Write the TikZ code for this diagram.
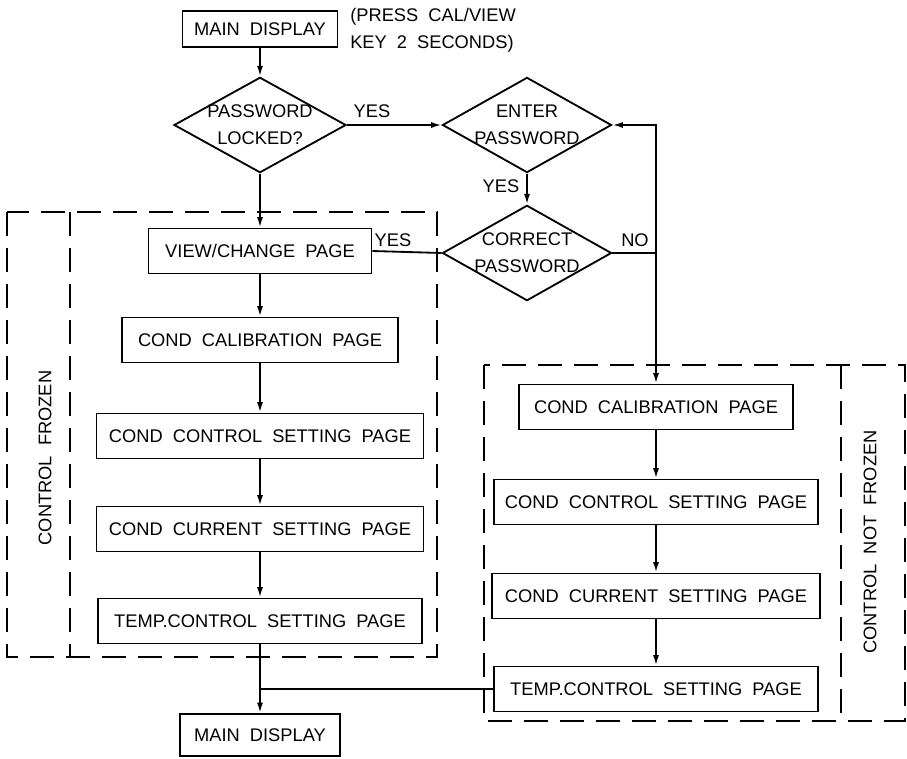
\documentclass[tikz,border=0pt]{standalone}
\usepackage{fontspec}
\usepackage{tikz}
\usetikzlibrary{arrows.meta}
\usetikzlibrary{shapes.geometric, calc}
\setmainfont{Liberation Sans}
\newcommand{\cadfont}{\fontsize{13}{19}\selectfont\spaceskip=0.55em\relax}

\tikzset{
    pagebox/.style={draw, line width=1.3pt, minimum height=1.125cm, inner sep=2pt},
    query/.style={diamond, draw, line width=1.3pt, aspect=1.75, inner sep=-1pt, align=center},
    arr/.style={-{Latex[length=2.6mm, width=1.5mm]}, line width=1.3pt},
    link/.style={line width=1.3pt},
    zone/.style={line width=1.3pt, dash pattern=on 0.6cm off 0.3cm},
    tag/.style={inner sep=1pt}
}

\begin{document}
\begin{tikzpicture}[x=0.025cm, y=-0.025cm, font=\cadfont]
    \useasboundingbox (0,0) rectangle (907,758);

    % Zones
    \draw[zone] (7,212) rectangle (437,657);
    \draw[zone] (70,212) -- (70,657);
    \draw[zone] (484,365) rectangle (905,721);
    \draw[zone] (841,365) -- (841,721);
    \node[rotate=90] (frozen) at (45,458) {CONTROL FROZEN};
    \node[rotate=90] (notfrozen) at (870,542) {CONTROL NOT FROZEN};

    % Entree
    \node[pagebox, minimum width=3.875cm, minimum height=0.9cm] (md1) at (260,29) {MAIN DISPLAY};
    \node[anchor=west, align=left, inner sep=0pt] (hint) at (350,30) {(PRESS CAL/VIEW\\KEY 2 SECONDS)};
    \node[query, minimum width=4.3cm] (locked) at (260,125) {PASSWORD\\LOCKED?};
    \node[query, minimum width=4.225cm] (enter) at (527,125) {ENTER\\PASSWORD};
    \node[query, minimum width=4.225cm] (correct) at (527,253) {CORRECT\\PASSWORD};

    % Colonne gauche
    \node[pagebox, minimum width=5.575cm] (view) at (260,251) {VIEW/CHANGE PAGE};
    \node[pagebox, minimum width=6.9cm] (lcal) at (260,340) {COND CALIBRATION PAGE};
    \node[pagebox, minimum width=8.175cm] (lctrl) at (260,436) {COND CONTROL SETTING PAGE};
    \node[pagebox, minimum width=8.175cm] (lcur) at (260,529) {COND CURRENT SETTING PAGE};
    \node[pagebox, minimum width=8.1cm] (ltemp) at (260,621) {TEMP.CONTROL SETTING PAGE};
    \node[pagebox, minimum width=4cm, minimum height=1.05cm] (md2) at (260,735) {MAIN DISPLAY};

    % Colonne droite
    \node[pagebox, minimum width=6.85cm] (rcal) at (656,407) {COND CALIBRATION PAGE};
    \node[pagebox, minimum width=8.1cm] (rctrl) at (656,502) {COND CONTROL SETTING PAGE};
    \node[pagebox, minimum width=8.2cm] (rcur) at (656,596) {COND CURRENT SETTING PAGE};
    \node[pagebox, minimum width=8.1cm] (rtemp) at (656,689) {TEMP.CONTROL SETTING PAGE};

    % Liaisons
    \draw[arr] (md1) -- (locked);
    \draw[arr] (locked.east) -- (enter.west);
    \node[tag] (yes1) at (372,111) {YES};
    \draw[arr] (enter.south) -- (correct.north);
    \node[tag] (yes2) at (501,186) {YES};
    \draw[link] (correct.west) -- (view.east);
    \node[tag] (yes3) at (393,240) {YES};
    \coordinate (jno) at (correct.east -| rcal.north);
    \draw[link] (correct.east) -- (jno);
    \node[tag] (no) at (635,240) {NO};
    \draw[arr] (jno) |- (enter.east);
    \draw[arr] (jno) -- (rcal.north);
    \draw[arr] (locked.south) -- (view.north);
    \draw[arr] (view) -- (lcal);
    \draw[arr] (lcal) -- (lctrl);
    \draw[arr] (lctrl) -- (lcur);
    \draw[arr] (lcur) -- (ltemp);
    \draw[arr] (ltemp) -- (md2);
    \draw[arr] (rcal) -- (rctrl);
    \draw[arr] (rctrl) -- (rcur);
    \draw[arr] (rcur) -- (rtemp);
    \draw[link] (rtemp.west) -- (rtemp.west -| md2.north);
\end{tikzpicture}
\end{document}
